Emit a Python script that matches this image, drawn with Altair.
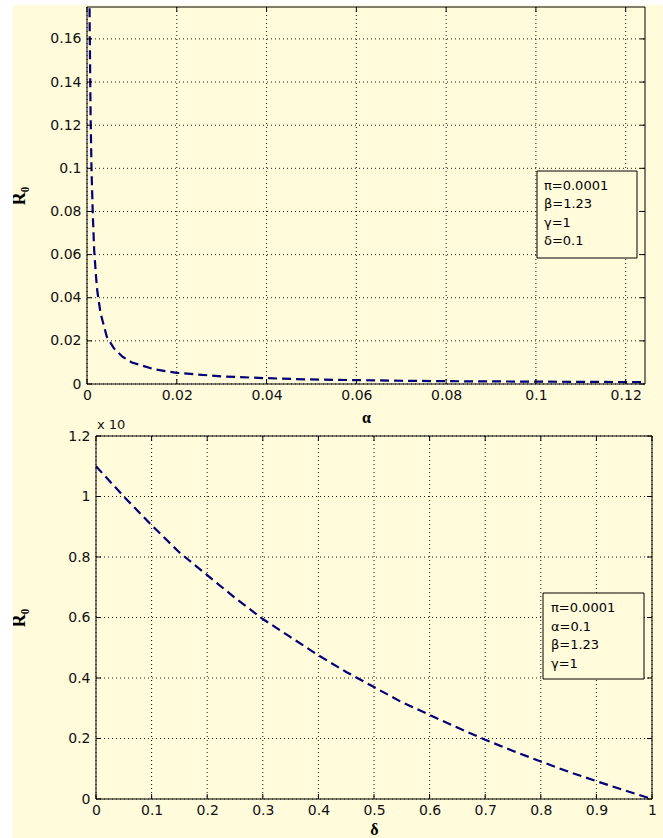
import altair as alt
import pandas as pd

# ---------------- data ----------------
alpha_vals = [0.0003, 0.0005, 0.0006, 0.0008, 0.001, 0.0013, 0.0016, 0.002, 0.0023,
              0.003, 0.0044, 0.006, 0.008, 0.01, 0.015, 0.02, 0.03, 0.04, 0.05,
              0.06, 0.07, 0.08, 0.09, 0.1, 0.11, 0.12, 0.1243]
r0_alpha = [0.33, 0.20, 0.165, 0.125, 0.10, 0.078, 0.062, 0.05, 0.043,
            0.033, 0.022, 0.0165, 0.0125, 0.010, 0.0068, 0.0052, 0.0035, 0.0027, 0.0021,
            0.0018, 0.0015, 0.0013, 0.0012, 0.0011, 0.0010, 0.0009, 0.0009]

delta_vals = [0, 0.05, 0.1, 0.15, 0.2, 0.25, 0.3, 0.35, 0.4, 0.45, 0.5,
              0.55, 0.6, 0.65, 0.7, 0.75, 0.8, 0.85, 0.9, 0.95, 1.0]
r0_delta = [1.10, 1.00, 0.905, 0.815, 0.74, 0.665, 0.595, 0.535, 0.475, 0.42, 0.37,
            0.32, 0.278, 0.236, 0.196, 0.159, 0.124, 0.09, 0.059, 0.029, 0.0]

top_xticks = [0, 0.02, 0.04, 0.06, 0.08, 0.1, 0.12]
top_yticks = [0, 0.02, 0.04, 0.06, 0.08, 0.1, 0.12, 0.14, 0.16]
top_xdomain = [0, 0.1243]
top_ydomain = [0, 0.1748]

bot_xticks = [0, 0.1, 0.2, 0.3, 0.4, 0.5, 0.6, 0.7, 0.8, 0.9, 1]
bot_yticks = [0, 0.2, 0.4, 0.6, 0.8, 1, 1.2]
bot_xdomain = [0, 1]
bot_ydomain = [0, 1.2]

legend_top = ["π=0.0001", "β=1.23", "γ=1", "δ=0.1"]
legend_bot = ["π=0.0001", "α=0.1", "β=1.23", "γ=1"]
exp_label = "x 10"
y_title = "R₀"
top_x_title = "α"
bot_x_title = "δ"

CREAM = "#FFFBDB"
NAVY = "#000078"
FIG_W, FIG_H = 663, 838
LEFT = 87  # group origin of both panels (pixels from the page's left edge)


def panel(xs, ys, xticks, yticks, xdom, ydom, W, H, x0, top, xtitle, title_y,
          legend_lines, box, text_pos, strip_y, extra=None):
    df = pd.DataFrame({"x": xs, "y": ys})
    xscale = alt.Scale(domain=xdom, nice=False, zero=False, range=[x0, W])
    yscale = alt.Scale(domain=ydom, nice=False, zero=False)
    xaxis = alt.Axis(values=xticks, format="~g", grid=False, ticks=False, domain=False,
                     labelPadding=4, labelFlush=False, labelOverlap=False,
                     title=xtitle, titleY=title_y, titleBaseline="alphabetic")
    yaxis = alt.Axis(values=yticks, format="~g", grid=False, ticks=False, domain=False,
                     labelPadding=6, labelFlush=False, labelOverlap=False, offset=-x0,
                     title=y_title, titleX=-77 - x0, titleBaseline="top", titleAngle=270,
                     titleFontSize=18)

    def X():
        return alt.X("x:Q", scale=xscale, axis=xaxis)

    def Y():
        return alt.Y("y:Q", scale=yscale, axis=yaxis)

    one = pd.DataFrame({"k": [0]})
    xt = pd.DataFrame({"x": xticks})
    yt = pd.DataFrame({"y": yticks})

    layers = []
    # white margin strips of the figure (left, and top for first panel)
    layers.append(alt.Chart(one).mark_rect(color="white").encode(
        x=alt.value(-LEFT), x2=alt.value(-LEFT + 13),
        y=alt.value(strip_y[0]), y2=alt.value(strip_y[1])))
    if top:
        layers.append(alt.Chart(one).mark_rect(color="white").encode(
            x=alt.value(-LEFT), x2=alt.value(FIG_W - LEFT),
            y=alt.value(-7), y2=alt.value(-2)))
    # cream filler to the right edge of the figure
    layers.append(alt.Chart(one).mark_rect(color=CREAM).encode(
        x=alt.value(W + 2), x2=alt.value(FIG_W - LEFT),
        y=alt.value(10), y2=alt.value(11)))

    # dotted grid
    layers.append(alt.Chart(xt).mark_rule(color="black", strokeWidth=1,
                                          strokeDash=[1, 3], opacity=0.9).encode(
        x=X(), y=alt.value(0), y2=alt.value(H)))
    layers.append(alt.Chart(yt).mark_rule(color="black", strokeWidth=1,
                                          strokeDash=[1, 3], opacity=0.9).encode(
        y=Y(), x=alt.value(x0), x2=alt.value(W)))

    # data line
    layers.append(alt.Chart(df).mark_line(color=NAVY, strokeWidth=2.2,
                                          strokeDash=[9, 5], clip=True).encode(
        x=X(), y=Y()))

    # inward ticks
    layers.append(alt.Chart(xt).mark_rule(color="black", strokeWidth=1).encode(
        x=X(), y=alt.value(H), y2=alt.value(H - 5)))
    layers.append(alt.Chart(xt).mark_rule(color="black", strokeWidth=1).encode(
        x=X(), y=alt.value(0), y2=alt.value(5)))
    layers.append(alt.Chart(yt).mark_rule(color="black", strokeWidth=1).encode(
        y=Y(), x=alt.value(x0), x2=alt.value(x0 + 5)))
    layers.append(alt.Chart(yt).mark_rule(color="black", strokeWidth=1).encode(
        y=Y(), x=alt.value(W - 5), x2=alt.value(W)))

    # axes box
    layers.append(alt.Chart(one).mark_rect(fillOpacity=0, stroke="black", strokeWidth=1).encode(
        x=alt.value(x0), x2=alt.value(W), y=alt.value(0), y2=alt.value(H)))

    # legend box
    layers.append(alt.Chart(one).mark_rect(fill=CREAM, stroke="black", strokeWidth=1).encode(
        x=alt.value(box[0]), x2=alt.value(box[1]),
        y=alt.value(box[2]), y2=alt.value(box[3])))
    layers.append(alt.Chart(one).mark_text(align="left", baseline="alphabetic",
                                           lineHeight=18.5, font="DejaVu Sans",
                                           fontSize=13, color="black").encode(
        x=alt.value(text_pos[0]), y=alt.value(text_pos[1]),
        text=alt.value(legend_lines)))
    if extra is not None:
        layers.append(extra)

    return alt.layer(*layers).properties(width=W, height=H)


W1, H1 = 558, 377      # top plot: x 87..645, y 7..384
W2, H2 = 565, 363      # bottom group: plot x 96..652 (x0 = 9), y 436..799

top_chart = panel(alpha_vals, r0_alpha, top_xticks, top_yticks, top_xdomain, top_ydomain,
                  W1, H1, 0, True, top_x_title, 38, legend_top,
                  box=(450, 550, 164, 251), text_pos=(457, 182.5),
                  strip_y=(-7, H1 + 50))

exp_text = alt.Chart(pd.DataFrame({"k": [0]})).mark_text(
    align="left", baseline="alphabetic", font="DejaVu Sans", fontSize=13,
    color="#111").encode(x=alt.value(10), y=alt.value(-7), text=alt.value(exp_label))

bot_chart = panel(delta_vals, r0_delta, bot_xticks, bot_yticks, bot_xdomain, bot_ydomain,
                  W2, H2, 9, False, bot_x_title, 35, legend_bot,
                  box=(456, 557, 157, 243), text_pos=(464, 176),
                  strip_y=(-30, H2 + 39), extra=exp_text)

chart = alt.concat(top_chart, bot_chart, columns=1, spacing=-28).properties(
    padding=0, background=CREAM
).configure_view(
    fill=CREAM, stroke=None
).configure_axis(
    labelFont="DejaVu Sans", labelFontSize=14, labelColor="#111",
    titleFont="Liberation Serif", titleFontSize=16, titleFontWeight="bold", titleColor="black"
)

chart.save("out.html", embed_options={"renderer": "svg", "actions": False})
